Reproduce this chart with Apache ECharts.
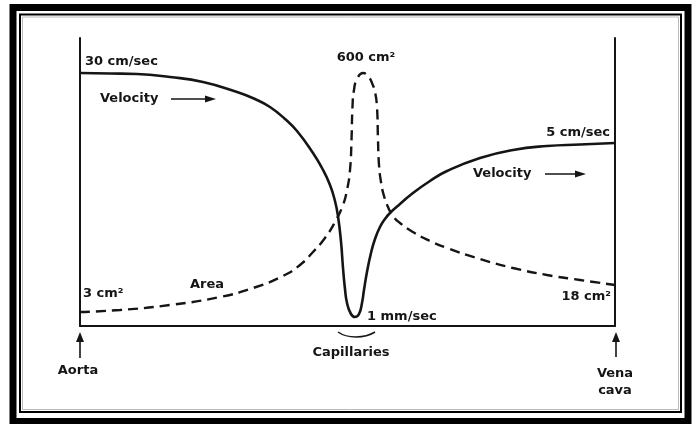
<!DOCTYPE html>
<html>
<head>
<meta charset="utf-8">
<script src="https://cdn.jsdelivr.net/npm/echarts@6/dist/echarts.min.js"></script>
<style>
  html, body { margin: 0; padding: 0; background: #fff; }
  #main { width: 698px; height: 424px; }
</style>
</head>
<body>
<div id="main"></div>
<script>
// schematic scale, 0..100 along the vessel bed, 0..100 relative height
var velocityX = [0, 5.61, 10.65, 16.82, 22.99, 29.35, 32.71, 35.51, 38.32, 40.56, 43.55, 45.23, 46.73, 47.66, 48.22,
                 48.79, 49.16, 49.53, 49.91, 50.65, 51.40, 52.15, 52.71, 53.08, 53.64, 54.39, 55.14, 56.07, 57.01,
                 57.94, 59.81, 62.24, 65.42, 68.60, 74.77, 80.93, 87.29, 93.46, 100];
var velocityY = [87.85, 87.67, 87.5, 86.46, 84.72, 81.25, 78.82, 76.04, 71.88, 67.71, 60.07, 54.86, 48.96, 43.40, 38.19,
                 29.17, 20.14, 12.85, 7.99, 4.17, 3.13, 4.17, 7.99, 12.5, 18.75, 25.35, 30.21, 34.38, 37.15,
                 39.24, 42.36, 46.18, 50.35, 53.82, 58.33, 61.11, 62.5, 63.02, 63.54];

var areaX = [0, 7.48, 16.82, 26.17, 32.34, 37.94, 41.12, 43.55, 45.79, 47.66, 49.16, 49.91, 50.47, 50.75, 50.93,
             51.21, 51.78, 52.90, 53.83, 54.58, 55.14, 55.51, 55.70, 55.89, 56.26, 56.82, 57.57, 58.50, 59.81,
             62.24, 65.42, 68.60, 74.77, 80.93, 87.29, 93.46, 100];
var areaY = [4.86, 5.56, 7.29, 10.07, 13.19, 17.36, 21.18, 25.69, 30.56, 36.11, 42.01, 47.22, 54.17, 64.58, 76.04,
             81.94, 85.76, 87.85, 86.81, 84.38, 81.25, 76.04, 64.58, 55.90, 50.0, 45.14, 41.32, 38.19, 35.76,
             32.64, 29.51, 27.08, 23.26, 20.14, 17.71, 15.97, 14.24];

var labelTexts = ['30 cm/sec', 'Velocity', '600 cm²', '5 cm/sec', 'Velocity', '3 cm²', 'Area', '1 mm/sec',
                  '18 cm²', 'Capillaries', 'Aorta', 'Vena', 'cava'];

function pairs(xs, ys) {
    var out = [];
    for (var i = 0; i < xs.length; i++) out.push([xs[i], ys[i]]);
    return out;
}

var ink = '#151515';
var fontBase = { fontFamily: 'DejaVu Sans', fontWeight: 'bold', fontSize: 13, fill: ink };

function txt(s, x, y, align) {
    return {
        type: 'text', x: x, y: y, silent: true,
        style: Object.assign({ text: s, textAlign: align || 'left', textVerticalAlign: 'middle' }, fontBase)
    };
}
function seg(x1, y1, x2, y2, w) {
    return { type: 'line', silent: true, shape: { x1: x1, y1: y1, x2: x2, y2: y2 },
             style: { stroke: ink, lineWidth: w || 1.5 } };
}
function tri(pts) {
    return { type: 'polygon', silent: true, shape: { points: pts }, style: { fill: ink } };
}

var myChart = echarts.init(document.getElementById('main'));

var option = {
    backgroundColor: '#fff',
    animation: false,
    grid: { left: 80, right: 83, top: 38, bottom: 98 },
    xAxis: {
        type: 'value', min: 0, max: 100,
        axisLine: { show: true, onZero: false, lineStyle: { color: ink, width: 2 } },
        axisTick: { show: false }, axisLabel: { show: false }, splitLine: { show: false }
    },
    yAxis: [
        {
            type: 'value', min: 0, max: 100, position: 'left',
            axisLine: { show: true, lineStyle: { color: ink, width: 2 } },
            axisTick: { show: false }, axisLabel: { show: false }, splitLine: { show: false }
        },
        {
            type: 'value', min: 0, max: 100, position: 'right',
            axisLine: { show: true, lineStyle: { color: ink, width: 2 } },
            axisTick: { show: false }, axisLabel: { show: false }, splitLine: { show: false }
        }
    ],
    series: [
        {
            name: 'Velocity', type: 'line', showSymbol: false, smooth: 0.5,
            lineStyle: { color: ink, width: 2.6 },
            data: pairs(velocityX, velocityY)
        },
        {
            name: 'Area', type: 'line', showSymbol: false, smooth: 0.5,
            lineStyle: { color: ink, width: 2.4, type: [10, 6] },
            data: pairs(areaX, areaY)
        }
    ],
    graphic: [
        // outer frame
        { type: 'rect', silent: true, shape: { x: 13, y: 7.5, width: 675, height: 414 },
          style: { fill: null, stroke: '#000', lineWidth: 7 } },
        { type: 'rect', silent: true, shape: { x: 20, y: 14.5, width: 661, height: 397.5 },
          style: { fill: null, stroke: '#000', lineWidth: 2 } },
        { type: 'rect', silent: true, shape: { x: 22.5, y: 17, width: 656, height: 392.5 },
          style: { fill: null, stroke: '#bbb', lineWidth: 1 } },

        txt(labelTexts[0], 85, 62),
        txt(labelTexts[1], 100, 99), seg(171, 99, 207, 99), tri([[205, 95.5], [216, 99], [205, 102.5]]),
        txt(labelTexts[2], 366, 58, 'center'),
        txt(labelTexts[3], 610, 133, 'right'),
        txt(labelTexts[4], 473, 174), seg(545, 174, 577, 174), tri([[575, 170.5], [586, 174], [575, 177.5]]),
        txt(labelTexts[5], 83, 294),
        txt(labelTexts[6], 190, 285),
        txt(labelTexts[7], 367, 317),
        txt(labelTexts[8], 611, 297, 'right'),
        txt(labelTexts[9], 351, 353, 'center'),
        txt(labelTexts[10], 78, 371, 'center'),
        txt(labelTexts[11], 615, 374, 'center'),
        txt(labelTexts[12], 615, 391, 'center'),

        // capillaries brace
        { type: 'bezierCurve', silent: true,
          shape: { x1: 338, y1: 332, x2: 356, y2: 337, cpx1: 345, cpy1: 337 },
          style: { stroke: ink, lineWidth: 1.5, fill: null } },
        { type: 'bezierCurve', silent: true,
          shape: { x1: 356, y1: 337, x2: 375, y2: 332, cpx1: 367, cpy1: 337 },
          style: { stroke: ink, lineWidth: 1.5, fill: null } },

        // aorta / vena cava arrows
        seg(80, 358, 80, 340, 1.6), tri([[76, 342], [80, 332], [84, 342]]),
        seg(616, 357, 616, 340, 1.6), tri([[612, 342], [616, 332], [620, 342]])
    ]
};

myChart.setOption(option);
</script>
</body>
</html>
